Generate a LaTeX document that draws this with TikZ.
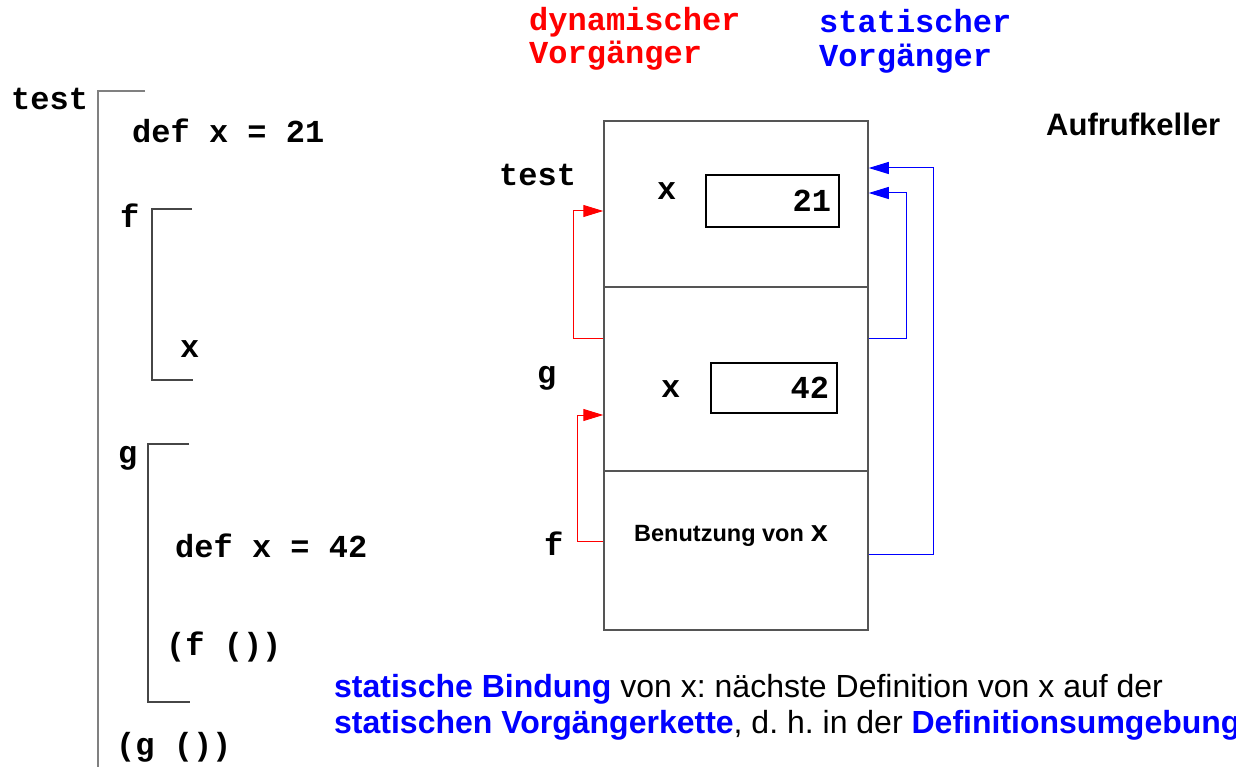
\documentclass[tikz,border=0pt]{standalone}
\usepackage{fontspec}
\setmainfont{Liberation Sans}
\newfontfamily\codefont{Liberation Mono}
\usetikzlibrary{arrows.meta}
\definecolor{dynred}{RGB}{255,0,0}
\definecolor{statblue}{RGB}{0,0,255}
\definecolor{framegray}{RGB}{85,85,85}
\definecolor{bracketgray}{RGB}{128,128,128}
\definecolor{innergray}{RGB}{70,70,70}
\frenchspacing
\begin{document}
\begin{tikzpicture}[x=1pt,y=-1pt,
  code/.style={font=\codefont\bfseries\fontsize{32}{38}\selectfont, inner sep=0pt, anchor=base west},
  sans/.style={font=\fontsize{32}{38}\selectfont, inner sep=0pt, anchor=base west},
  frame/.style={draw=framegray, line width=1.5pt, minimum width=264pt, inner sep=0pt},
  valbox/.style={draw=black, line width=1.2pt, inner sep=0pt, align=right,
    font=\codefont\bfseries\fontsize{32}{38}\selectfont},
  bracket/.style={draw=bracketgray, line width=1.6pt},
  innerbracket/.style={draw=innergray, line width=1.4pt},
  dyn/.style={draw=dynred, line width=1pt, -{Triangle[length=20pt,width=12pt]}},
  stat/.style={draw=statblue, line width=1pt, -{Triangle[length=20pt,width=12pt]}}]
\useasboundingbox (0,0) rectangle (1236,767);

% ---- program text with its block brackets ----
\draw[bracket] (145,91) -- (98,91) -- (98,775);
\draw[innerbracket] (192,209) -- (152,209) -- (152,380) -- (193,380);
\draw[innerbracket] (189,444) -- (148,444) -- (148,702) -- (190,702);

\node[code] (ptest) at (11,110) {test};
\node[code] (pdefa) at (132,143) {def x = 21};
\node[code] (pf)    at (120,228) {f};
\node[code] (px)    at (180,357) {x};
\node[code] (pg)    at (118,463) {g};
\node[code] (pdefb) at (175,557) {def x = 42};
\node[code] (pcf)   at (166,655) {(f ())};
\node[code] (pcg)   at (116,755) {(g ())};

% ---- column headings ----
\node[code, text=dynred] (dyna) at (529,31) {dynamischer};
\node[code, text=dynred] (dynb) at (529,64) {Vorgänger};
\node[code, text=statblue] (sta) at (819,33) {statischer};
\node[code, text=statblue] (stb) at (819,67) {Vorgänger};
\node[sans, font=\bfseries\fontsize{31}{38}\selectfont] (keller) at (1046,136) {Aufrufkeller};

% ---- call stack frames ----
\node[frame, minimum height=166pt] (ftest) at (736,204) {};
\node[frame, minimum height=184pt] (fg)    at (736,379) {};
\node[frame, minimum height=159pt] (ff)    at (736,550.5) {};

\node[code] (ltest) at (499,186) {test};
\node[code] (lg)    at (537,383) {g};
\node[code] (lf)    at (544,555) {f};

\node[code] (xa) at (657,200) {x};
\node[valbox, minimum height=52pt, text width=117pt, inner xsep=8pt] (va) at (772.5,201) {21};
\node[code] (xb) at (661,397) {x};
\node[valbox, minimum height=50pt, text width=110pt, inner xsep=8pt] (vb) at (774,388) {42};

\node[sans, font=\bfseries\fontsize{23.5}{30}\selectfont] (use) at (634,541)
  {Benutzung von {\codefont\fontsize{30}{36}\selectfont x}};

% ---- dynamic links (red) ----
\draw[dyn] ([yshift=41pt]fg.west) -- ++(-30,0) |- ([yshift=-7pt]ftest.west);
\draw[dyn] ([yshift=9.5pt]ff.west) -- ++(-26,0) |- ([yshift=-36pt]fg.west);

% ---- static links (blue) ----
\draw[stat] ([yshift=41pt]fg.east) -- ++(38,0) |- ([yshift=11pt]ftest.east);
\draw[stat] ([yshift=-3.5pt]ff.east) -- ++(65,0) |- ([yshift=36pt]ftest.east);

% ---- explanation ----
\node[sans] (note1) at (334,697)
  {\textcolor{statblue}{\bfseries statische Bindung} von x: nächste Definition von x auf der};
\node[sans] (note2) at (334,733)
  {\textcolor{statblue}{\bfseries statischen Vorgängerkette}, d. h. in der \textcolor{statblue}{\bfseries Definitionsumgebung}};
\end{tikzpicture}
\end{document}
